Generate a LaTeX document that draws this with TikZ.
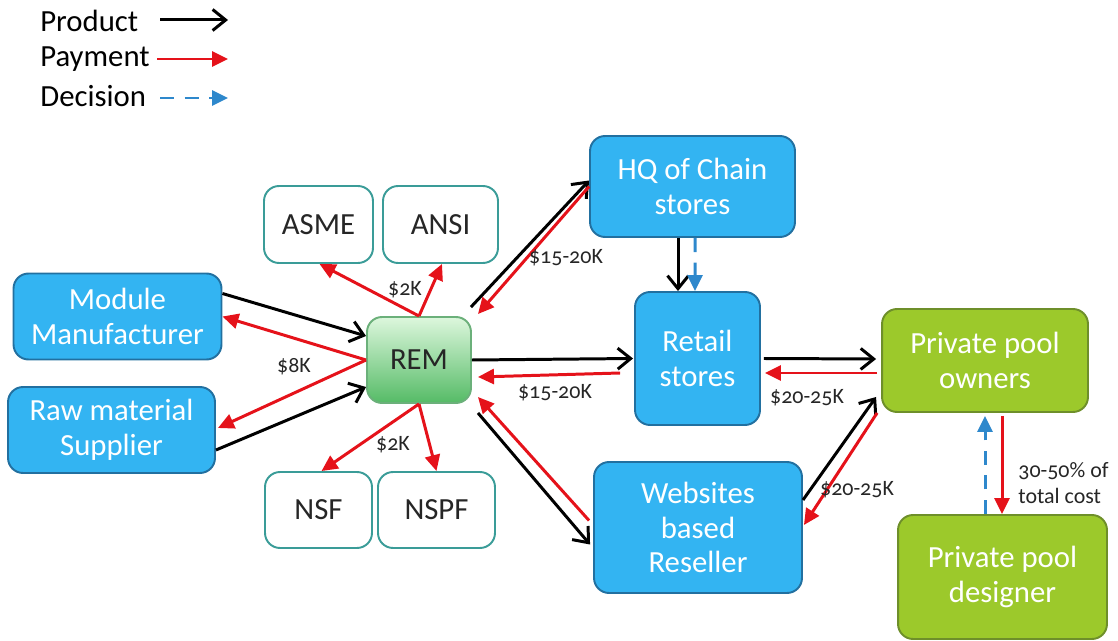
\documentclass[tikz,border=0pt]{standalone}
\usepackage{fontspec}
\setmainfont{Carlito}
\newfontfamily\labfont[Numbers=OldStyle]{Carlito}
\usetikzlibrary{arrows.meta,calc}
\definecolor{boxblue}{HTML}{33B4F2}
\definecolor{boxblueb}{HTML}{2270A0}
\definecolor{boxgreen}{HTML}{9CC92B}
\definecolor{boxgreenb}{HTML}{6E8F2A}
\definecolor{remtop}{HTML}{DDF7DD}
\definecolor{rembot}{HTML}{55BB66}
\definecolor{remb}{HTML}{6BB07A}
\definecolor{tealb}{HTML}{3A9C98}
\definecolor{payred}{HTML}{E5121A}
\definecolor{decblue}{HTML}{2E88CC}
\tikzset{
  boxtext/.style={font=\fontsize{17.5}{19.8}\selectfont, align=center, inner sep=0pt, rounded corners=0.3cm, line width=1.1pt},
  bluebox/.style={boxtext, draw=boxblueb, fill=boxblue, text=white},
  greenbox/.style={boxtext, draw=boxgreenb, fill=boxgreen, text=white},
  whitebox/.style={boxtext, draw=tealb, fill=white, text=black!85},
  rembox/.style={boxtext, draw=remb, top color=remtop, bottom color=rembot, text=black!85},
  prod/.style={draw=black, line width=1.7pt, -{Straight Barb[length=2.6mm,width=4.2mm,line width=1.7pt]}},
  pay/.style={draw=payred, line width=1.7pt, -{Triangle[length=3.2mm,width=3mm]}},
  dec/.style={draw=decblue, line width=1.7pt, dash pattern=on 8pt off 6pt, -{Triangle[length=3.2mm,width=3mm]}},
  lab/.style={font=\labfont\fontsize{12.5}{15}\selectfont, text=black!85, inner sep=0pt},
  legtext/.style={font=\fontsize{17.5}{19.8}\selectfont, text=black, anchor=west, inner sep=0pt}
}
\begin{document}
\begin{tikzpicture}[x=0.02cm,y=-0.02cm]
\useasboundingbox (0,0) rectangle (1118,641);
% legend
\node[legtext] (lp) at (40,21) {Product};
\node[legtext] (lpay) at (40,59) {Payment};
\node[legtext] (ld) at (40,96) {Decision};
\coordinate (lp1) at (160,20); \coordinate (lp2) at (228,20);
\coordinate (lpay1) at (157,59); \coordinate (lpay2) at (228,59);
\coordinate (ld1) at (160,98); \coordinate (ld2) at (228,98);
\draw[prod] (lp1) -- (lp2);
\draw[pay] (lpay1) -- (lpay2);
\draw[dec] (ld1) -- (ld2);
% nodes
\node[bluebox, minimum width=4.16cm, minimum height=1.72cm] (mod) at (117.5,316.5) {Module\\Manufacturer};
\node[bluebox, minimum width=4.14cm, minimum height=1.72cm] (raw) at (111.5,430) {Raw material\\Supplier};
\node[whitebox, minimum width=2.18cm, minimum height=1.54cm] (asme) at (318.5,224.5) {ASME};
\node[whitebox, minimum width=2.30cm, minimum height=1.54cm] (ansi) at (440.5,224.5) {ANSI};
\node[rembox, minimum width=2.08cm, minimum height=1.72cm] (rem) at (419,360) {REM};
\node[whitebox, minimum width=2.14cm, minimum height=1.52cm] (nsf) at (318.5,510) {NSF};
\node[whitebox, minimum width=2.34cm, minimum height=1.52cm] (nspf) at (436.5,510) {NSPF};
\node[bluebox, minimum width=4.10cm, minimum height=2.02cm] (hq) at (692.5,186.5) {HQ of Chain\\stores};
\node[bluebox, minimum width=2.50cm, minimum height=2.66cm] (ret) at (697.5,358.5) {Retail\\stores};
\node[greenbox, minimum width=4.12cm, minimum height=2.06cm] (own) at (985,360.5) {Private pool\\owners};
\node[bluebox, minimum width=4.16cm, minimum height=2.62cm] (web) at (698,527.5) {Websites\\based\\Reseller};
\node[greenbox, minimum width=4.18cm, minimum height=2.48cm] (des) at (1002.5,577) {Private pool\\designer};
% module / raw
\draw[prod] ($(mod.east)+(0,-23)$) -- ($(rem.west)+(0,-24)$);
\draw[pay] (rem.west) -- (mod.east);
\draw[pay] (rem.west) -- ($(raw.east)+(2,-2)$);
\draw[prod] ($(raw.east)+(0,20)$) -- ($(rem.west)+(0,27)$);
\node[lab] (l8k) at (294,367) {\$8K};
% standards
\draw[pay] (rem.north) -- ($(asme.south)+(1,0)$);
\draw[pay] (rem.north) -- ($(ansi.south)+(1.5,0)$);
\node[lab] (l2ka) at (405,290) {\$2K};
\draw[pay] (rem.south) -- ($(nsf.north)+(3,0)$);
\draw[pay] (rem.south) -- (nspf.north);
\node[lab] (l2kb) at (393,445) {\$2K};
% HQ
\draw[prod] ($(rem.north east)+(-1,-9)$) -- ($(hq.west)+(0,-6)$);
\draw[pay] (hq.west) -- ($(rem.north east)+(6,-2)$);
\node[lab] (l1520a) at (566,258) {\$15-20K};
% retail
\draw[prod] (rem.east) -- ($(ret.west)+(-1,0)$);
\draw[pay] ($(ret.west)+(-14,14.5)$) -- ($(rem.east)+(6,17)$);
\node[lab] (l1520b) at (555,393) {\$15-20K};
% websites
\draw[prod] ($(rem.south east)+(6,9)$) -- ($(web.west)+(-3,17)$);
\draw[pay] ($(web.west)+(-4,-7)$) -- ($(rem.east)+(6,37)$);
% HQ -> retail
\draw[prod] ($(hq.south)+(-14.5,0)$) -- ($(ret.north)+(-19.5,0)$);
\draw[dec] ($(hq.south)+(2.5,0)$) -- ($(ret.north)+(-2.5,0)$);
% retail <-> owners
\draw[prod] ($(ret.east)+(3,0)$) -- ($(own.west)+(-5,-1.5)$);
\draw[pay] ($(own.west)+(-4,12.5)$) -- ($(ret.east)+(4,14.5)$);
\node[lab] (l2025a) at (807,398) {\$20-25K};
% web <-> owners
\draw[prod] ($(web.east)+(0,-27.5)$) -- ($(own.west)+(-5,36.5)$);
\draw[pay] ($(own.south west)+(-4,0)$) -- ($(web.east)+(1,-2.5)$);
\node[lab] (l2025b) at (857,490) {\$20-25K};
% owners <-> designer
\draw[pay] ($(own.south)+(17,3)$) -- ($(des.north)+(-0.5,0)$);
\draw[dec] ($(des.north)+(-17.5,0)$) -- ($(own.south)+(0,3)$);
\node[lab, align=left, anchor=west] (l3050) at (1018,483) {30-50\% of\\total cost};
\end{tikzpicture}
\end{document}
